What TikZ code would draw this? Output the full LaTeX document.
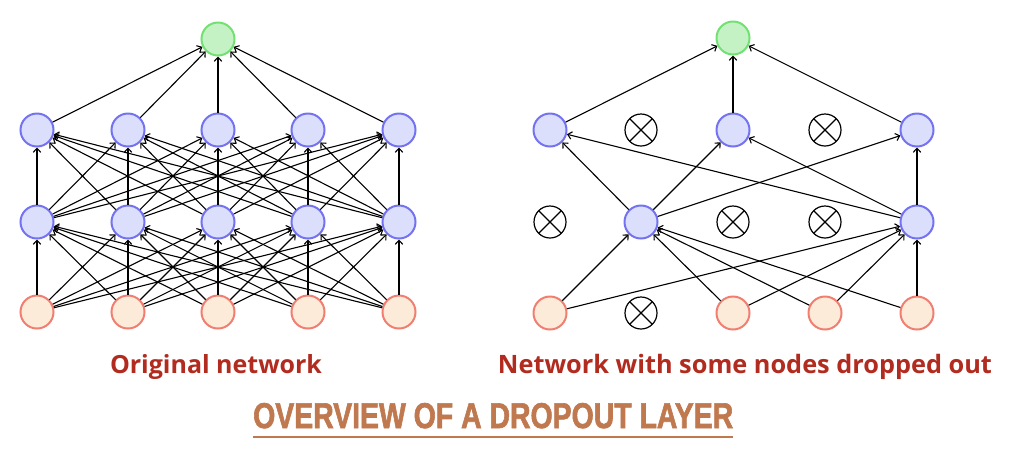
\documentclass[tikz,border=0pt]{standalone}
\usepackage{fontspec}
\usetikzlibrary{arrows.meta}
\setmainfont{Liberation Sans}
\newfontfamily\lblfont{Open Sans}
\newfontfamily\titlefont{Liberation Sans}[BoldFeatures={FakeBold=2}]
\definecolor{inpfill}{HTML}{FDEBDA}
\definecolor{inpdraw}{HTML}{F07F72}
\definecolor{hidfill}{HTML}{DCDFFB}
\definecolor{hiddraw}{HTML}{7373F2}
\definecolor{outfill}{HTML}{C4F2C4}
\definecolor{outdraw}{HTML}{72E072}
\definecolor{lblred}{HTML}{B22B1F}
\definecolor{titlecol}{HTML}{C0784F}
\begin{document}
\begin{tikzpicture}[x=1pt,y=-1pt,
  neuron/.style={circle, line width=2pt, minimum size=33pt, inner sep=0pt},
  inp/.style={neuron, draw=inpdraw, fill=inpfill},
  hid/.style={neuron, draw=hiddraw, fill=hidfill},
  outn/.style={neuron, draw=outdraw, fill=outfill},
  drop/.style={circle, draw=black, line width=1.2pt, minimum size=32pt, inner sep=0pt,
    path picture={\draw[line width=1.2pt] (path picture bounding box.north west) -- (path picture bounding box.south east)
      (path picture bounding box.north east) -- (path picture bounding box.south west);}},
  conn/.style={-{Straight Barb[length=4pt,width=7.5pt]}, line width=1.1pt, black},
  lbl/.style={text=lblred, anchor=base, inner sep=0pt, font=\lblfont\bfseries}]
\useasboundingbox (0,0) rectangle (1028,459);
\fill[white] (0,0) rectangle (1028,459);
% ---------- left: original network ----------
\foreach \i/\x in {1/37,2/128,3/218,4/308,5/399}{
  \node[inp] (a\i) at (\x,312) {};
  \node[hid] (b\i) at (\x,222) {};
  \node[hid] (c\i) at (\x,130) {};
}
\node[outn] (ao) at (218,39) {};
\foreach \i in {1,...,5}{
  \foreach \j in {1,...,5}{
    \draw[conn] (a\i) -- (b\j);
    \draw[conn] (b\i) -- (c\j);
  }
  \draw[conn] (c\i) -- (ao);
}
% ---------- right: dropout network ----------
\node[inp] (ri1) at (550,313) {};
\node[drop] (rx1) at (641,313) {};
\node[inp] (ri3) at (733,313) {};
\node[inp] (ri4) at (825,313) {};
\node[inp] (ri5) at (917,313) {};
\node[drop] (rx2) at (550,222) {};
\node[hid] (rh2) at (641,222) {};
\node[drop] (rx3) at (733,222) {};
\node[drop] (rx4) at (825,222) {};
\node[hid] (rh5) at (917,222) {};
\node[hid] (rg1) at (550,130) {};
\node[drop] (rx5) at (641,130) {};
\node[hid] (rg3) at (733,130) {};
\node[drop] (rx6) at (825,130) {};
\node[hid] (rg5) at (917,130) {};
\node[outn] (ro) at (733,38) {};
\foreach \s in {ri1,ri3,ri4,ri5}{
  \draw[conn] (\s) -- (rh2);
  \draw[conn] (\s) -- (rh5);
}
\foreach \s in {rh2,rh5}{
  \foreach \t in {rg1,rg3,rg5}{
    \draw[conn] (\s) -- (\t);
  }
}
\foreach \s in {rg1,rg3,rg5}{
  \draw[conn] (\s) -- (ro);
}
% ---------- labels ----------
\node[lbl] (lab1) at (216,373) {\resizebox{212pt}{!}{Original network}};
\node[lbl] (lab2) at (745,373) {\resizebox{494pt}{!}{Network with some nodes dropped out}};
\node[anchor=base west, inner sep=0pt, text=titlecol] (title) at (253,428)
  {\resizebox{480pt}{25pt}{\titlefont\bfseries OVERVIEW OF A DROPOUT LAYER}};
\coordinate (ul1) at (253,437);
\coordinate (ul2) at (733,437);
\draw[titlecol, line width=2pt] (ul1) -- (ul2);
\end{tikzpicture}
\end{document}
